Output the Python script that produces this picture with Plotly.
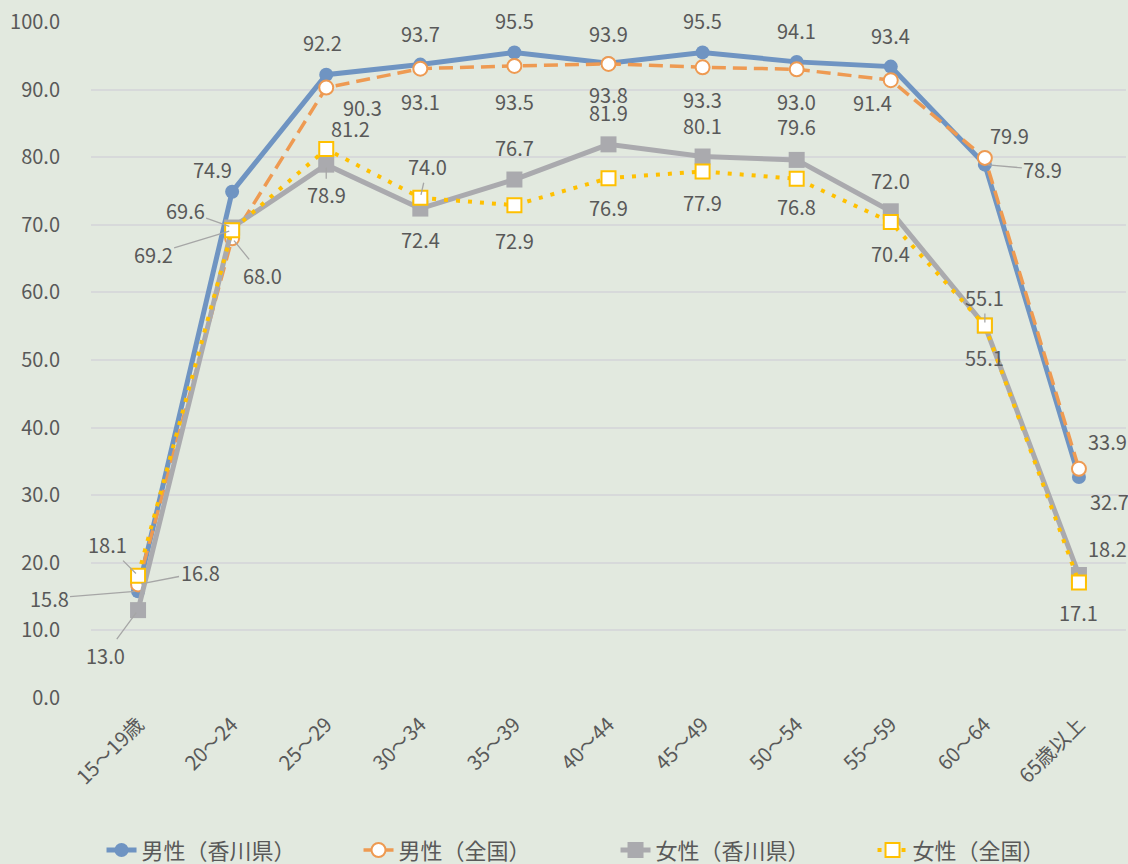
import plotly.graph_objects as go

categories = ["15～19歳", "20～24", "25～29", "30～34", "35～39", "40～44",
              "45～49", "50～54", "55～59", "60～64", "65歳以上"]
male_kagawa = [15.8, 74.9, 92.2, 93.7, 95.5, 93.9, 95.5, 94.1, 93.4, 78.9, 32.7]
male_national = [16.8, 68.0, 90.3, 93.1, 93.5, 93.8, 93.3, 93.0, 91.4, 79.9, 33.9]
female_kagawa = [13.0, 69.6, 78.9, 72.4, 76.7, 81.9, 80.1, 79.6, 72.0, 55.1, 18.2]
female_national = [18.1, 69.2, 81.2, 74.0, 72.9, 76.9, 77.9, 76.8, 70.4, 55.1, 17.1]
series_names = ["男性（香川県）", "男性（全国）", "女性（香川県）", "女性（全国）"]
y_ticks = [0, 10, 20, 30, 40, 50, 60, 70, 80, 90, 100]

FONT = "Noto Sans CJK JP, Noto Sans, sans-serif"
TXT = "#595959"
BG = "#E2E9DF"

BLUE = "#6F94C2"
ORANGE = "#EE9A52"
GRAY = "#AAAAAE"
YELLOW = "#FFC000"

fig = go.Figure()
fig.add_trace(go.Scatter(
    x=categories, y=male_kagawa, name=series_names[0], mode="lines+markers",
    line=dict(color=BLUE, width=5),
    marker=dict(symbol="circle", size=14, color=BLUE, line=dict(width=0)),
))
fig.add_trace(go.Scatter(
    x=categories, y=male_national, name=series_names[1], mode="lines+markers",
    line=dict(color=ORANGE, width=3.5, dash="14px,7px"),
    marker=dict(symbol="circle", size=14, color="white", line=dict(color=ORANGE, width=2)),
))
fig.add_trace(go.Scatter(
    x=categories, y=female_kagawa, name=series_names[2], mode="lines+markers",
    line=dict(color=GRAY, width=5),
    marker=dict(symbol="square", size=16, color=GRAY, line=dict(width=0)),
))
fig.add_trace(go.Scatter(
    x=categories, y=female_national, name=series_names[3], mode="lines+markers",
    line=dict(color=YELLOW, width=4, dash="4px,8px"),
    marker=dict(symbol="square", size=14, color="white", line=dict(color=YELLOW, width=2)),
))

# label offsets (dx, dy, leader) per series, per category
offsets = {
    0: [(-89, 7, True), (-20, -22, False), (-4, -32, False), (0, -31, False), (0, -32, False),
        (0, -30, False), (0, -32, False), (0, -31, False), (0, -31, False), (58, 5, True),
        (31, 25, False)],
    1: [(62, -12, True), (30, 37, True), (36, 20, False), (0, 33, False), (0, 36, False),
        (0, 31, False), (0, 32, False), (0, 32, False), (-18, 22, False), (25, -22, False),
        (29, -27, False)],
    2: [(-33, 45, True), (-47, -17, True), (0, 30, True), (0, 31, False), (0, -32, False),
        (0, -32, False), (0, -31, False), (0, -33, False), (0, -31, False), (0, -28, True),
        (29, -26, False)],
    3: [(-31, -31, True), (-79, 24, True), (24, -21, False), (7, -31, True), (0, 35, False),
        (0, 29, False), (0, 31, False), (0, 28, False), (0, 31, False), (0, 32, False),
        (0, 30, False)],
}
all_series = [male_kagawa, male_national, female_kagawa, female_national]
annotations = []
for si, vals in enumerate(all_series):
    for ci, v in enumerate(vals):
        dx, dy, leader = offsets[si][ci]
        txt = f"{v:.1f}"
        if leader:
            annotations.append(dict(
                x=categories[ci], y=v, xref="x", yref="y", text=txt,
                showarrow=True, ax=dx, ay=dy, arrowhead=0, arrowwidth=1.3,
                arrowcolor="#A6A6A6", standoff=3,
                font=dict(family=FONT, size=20, color=TXT),
            ))
        else:
            annotations.append(dict(
                x=categories[ci], y=v, xref="x", yref="y", text=txt,
                showarrow=False, xshift=dx, yshift=-dy,
                font=dict(family=FONT, size=20, color=TXT),
            ))

fig.update_layout(
    width=1128, height=864,
    margin=dict(l=91, r=2, t=22, b=166, autoexpand=False),
    paper_bgcolor=BG, plot_bgcolor=BG,
    font=dict(family=FONT, size=20, color=TXT),
    showlegend=True,
    legend=dict(orientation="h", xref="container", x=0.09, xanchor="left",
                yref="container", y=0.016, yanchor="middle",
                font=dict(family=FONT, size=22, color=TXT),
                entrywidth=212, entrywidthmode="pixels",
                bgcolor="rgba(0,0,0,0)"),
    annotations=annotations,
)
fig.update_xaxes(
    type="category", categoryorder="array", categoryarray=categories,
    range=[-0.5, len(categories) - 0.5], autorange=False,
    tickangle=-45, showgrid=False, showline=False, zeroline=False,
    ticks="outside", ticklen=6, tickcolor="rgba(0,0,0,0)",
    tickfont=dict(family=FONT, size=20, color=TXT),
)
fig.update_yaxes(
    range=[0, 100], autorange=False, tickvals=y_ticks, tickformat=".1f",
    showgrid=True, gridcolor="#D7D9DA", gridwidth=2,
    showline=False, zeroline=False,
    ticks="outside", ticklen=26, tickcolor="rgba(0,0,0,0)",
    tickfont=dict(family=FONT, size=20, color=TXT),
)

fig.write_html(
    "out.html",
    config={"displayModeBar": False},
    post_script="document.body.style.margin='0';document.body.style.background='" + BG + "';",
)
